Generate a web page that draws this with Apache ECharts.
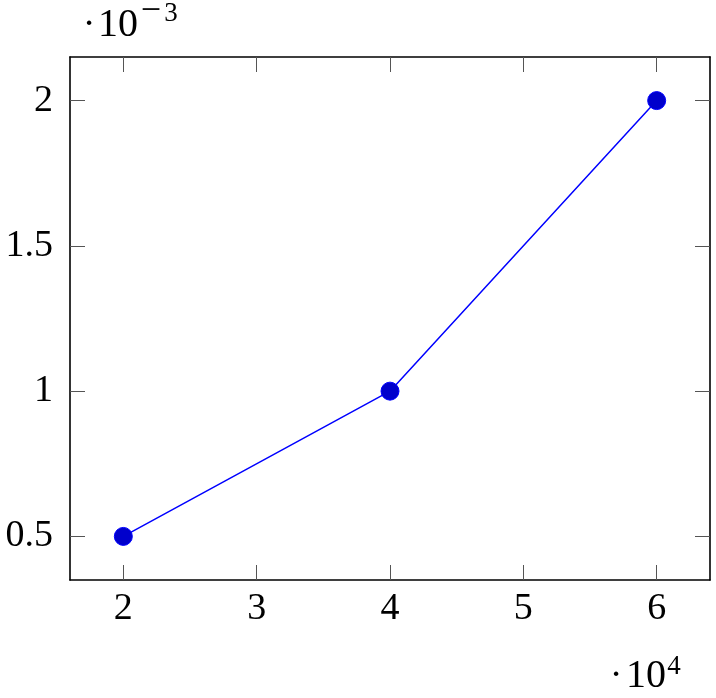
<!DOCTYPE html>
<html>
<head>
<meta charset="utf-8">
<script src="https://cdn.jsdelivr.net/npm/echarts@6/dist/echarts.min.js"></script>
<style>
  html, body { margin: 0; padding: 0; background: #fff; }
  #myChart { width: 716px; height: 698px; }
</style>
</head>
<body>
<div id="myChart"></div>
<script>
// values in units of 10^4 (x) and 10^-3 (y)
const xValues = [2, 4, 6];
const yValues = [0.5, 1, 2];
const xTicks = [2, 3, 4, 5, 6];
const yTicks = [0.5, 1, 1.5, 2];

const myChart = echarts.init(document.getElementById('myChart'));
const font = 'Liberation Serif';

function makeAxis(type, pos, min, max, ticks, showLabel) {
    return {
        type: 'value',
        position: pos,
        min: min,
        max: max,
        splitLine: { show: false },
        axisLine: { show: true, onZero: false, lineStyle: { color: '#000', width: 1.6 } },
        axisTick: {
            show: true, inside: true, length: 15,
            customValues: ticks,
            lineStyle: { color: '#555', width: 1 }
        },
        axisLabel: {
            show: showLabel,
            customValues: ticks,
            margin: type === 'x' ? 10 : 17,
            fontFamily: font,
            fontSize: 38,
            color: '#000',
            verticalAlign: type === 'x' ? 'top' : 'middle'
        }
    };
}

const option = {
    animation: false,
    grid: { left: 70, right: 6, top: 57, bottom: 118, containLabel: false },
    xAxis: [
        makeAxis('x', 'bottom', 1.6, 6.4, xTicks, true),
        makeAxis('x', 'top', 1.6, 6.4, xTicks, false)
    ],
    yAxis: [
        makeAxis('y', 'left', 0.35, 2.15, yTicks, true),
        makeAxis('y', 'right', 0.35, 2.15, yTicks, false)
    ],
    series: [
        {
            type: 'line',
            data: xValues.map((x, i) => [x, yValues[i]]),
            symbol: 'circle',
            symbolSize: 18,
            lineStyle: { color: '#0000ff', width: 1.5 },
            itemStyle: { color: '#0000cc', borderColor: '#0000ff', borderWidth: 1 }
        }
    ],
    graphic: [
        // scale label for y: ·10^-3
        { type: 'text', style: { text: '·', x: 89, y: 25, align: 'center', verticalAlign: 'middle', font: '38px "Liberation Serif"', fill: '#000' } },
        { type: 'text', style: { text: '10', x: 118, y: 25, align: 'center', verticalAlign: 'middle', font: '40px "Liberation Serif"', fill: '#000' } },
        { type: 'text', style: { text: '−', x: 151, y: 12, align: 'center', verticalAlign: 'middle', font: '36px "Liberation Serif"', fill: '#000' } },
        { type: 'text', style: { text: '3', x: 171, y: 14, align: 'center', verticalAlign: 'middle', font: '27px "Liberation Serif"', fill: '#000' } },
        // scale label for x: ·10^4
        { type: 'text', style: { text: '·', x: 616, y: 676, align: 'center', verticalAlign: 'middle', font: '38px "Liberation Serif"', fill: '#000' } },
        { type: 'text', style: { text: '10', x: 646, y: 676, align: 'center', verticalAlign: 'middle', font: '40px "Liberation Serif"', fill: '#000' } },
        { type: 'text', style: { text: '4', x: 674, y: 667, align: 'center', verticalAlign: 'middle', font: '27px "Liberation Serif"', fill: '#000' } }
    ]
};

myChart.setOption(option);
window.addEventListener('resize', myChart.resize);
</script>
</body>
</html>
